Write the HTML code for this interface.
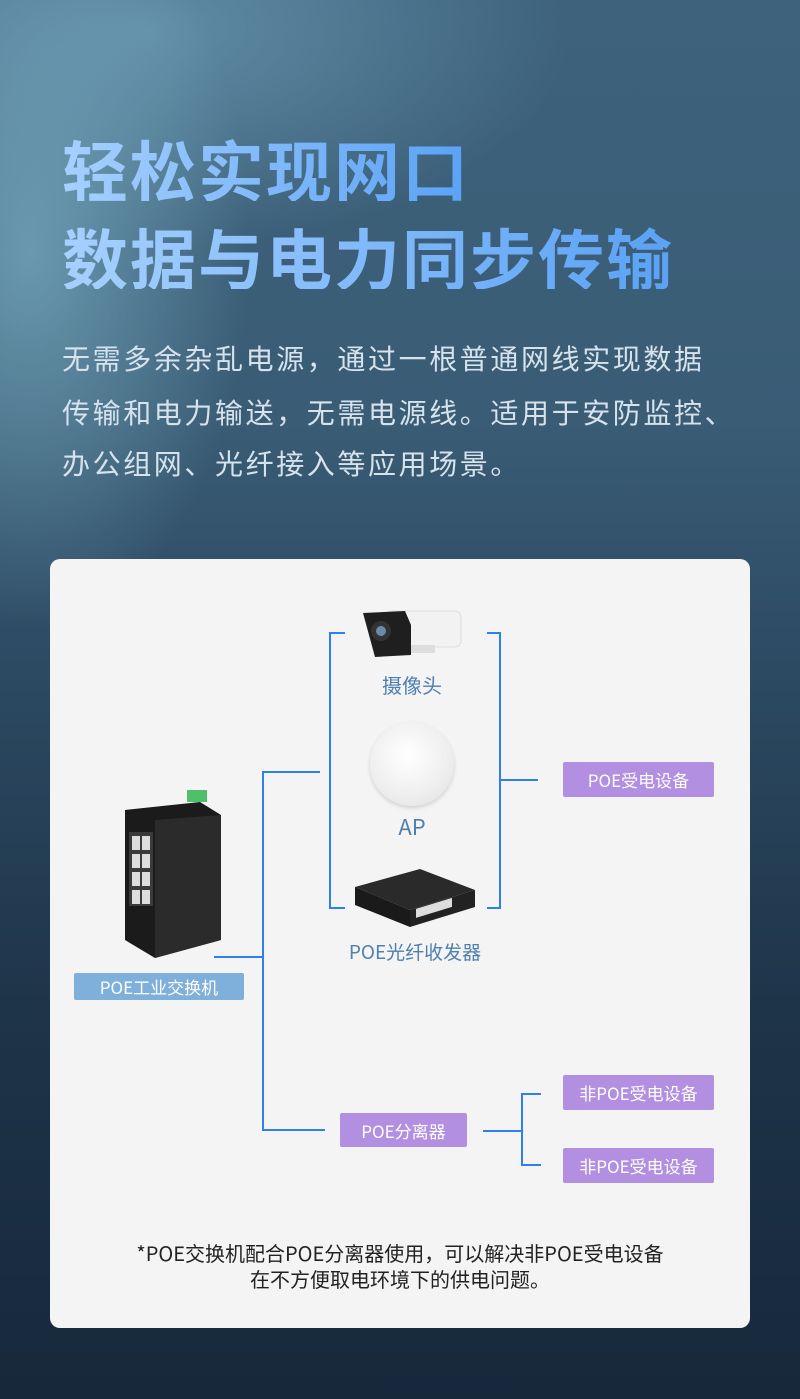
<!DOCTYPE html>
<html><head><meta charset="utf-8">
<style>
*{margin:0;padding:0;box-sizing:border-box}
body{width:800px;height:1399px;overflow:hidden;position:relative;font-family:"Noto Sans CJK SC","Liberation Sans",sans-serif;
background:radial-gradient(ellipse 220px 380px at 30px 250px,rgba(130,185,205,.65),rgba(130,185,205,0) 100%),
radial-gradient(ellipse 420px 220px at 150px 30px,rgba(120,170,195,.6),rgba(120,170,195,0)),
linear-gradient(180deg,#3e627c 0%,#3a5c75 30%,#2c4a62 48%,#1e3449 72%,#17283b 100%);}
.t{position:absolute;left:62px;font-size:66px;font-weight:bold;letter-spacing:2px;line-height:1;
background:linear-gradient(90deg,#a6d0ff,#5aa2f5);-webkit-background-clip:text;background-clip:text;color:transparent;white-space:nowrap}
.p{position:absolute;left:62px;font-size:28px;letter-spacing:2.6px;color:#d6e2ec;line-height:1;white-space:nowrap}
.card{position:absolute;left:50px;top:559px;width:700px;height:769px;background:#f4f4f4;border-radius:10px}
.ln{position:absolute;background:#2f80ee}
.box{position:absolute;background:#b28fe0;color:#fff;font-size:17px;display:flex;align-items:center;justify-content:center;border-radius:2px}
.lbl{position:absolute;color:#4f7fb0;font-size:20px;text-align:center;white-space:nowrap}
</style></head><body>
<div class="t" style="top:135px">轻松实现网口</div>
<div class="t" style="top:223px">数据与电力同步传输</div>
<div class="p" style="top:344px">无需多余杂乱电源，通过一根普通网线实现数据</div>
<div class="p" style="top:398px">传输和电力输送，无需电源线。适用于安防监控、</div>
<div class="p" style="top:449px">办公组网、光纤接入等应用场景。</div>

<div class="card"></div>
<div class="ln" style="left:329px;top:632px;width:2px;height:277px"></div>
<div class="ln" style="left:329px;top:632px;width:16px;height:2px"></div>
<div class="ln" style="left:329px;top:907px;width:16px;height:2px"></div>
<div class="ln" style="left:499px;top:632px;width:2px;height:277px"></div>
<div class="ln" style="left:487px;top:632px;width:14px;height:2px"></div>
<div class="ln" style="left:487px;top:907px;width:14px;height:2px"></div>
<div class="ln" style="left:499px;top:779px;width:39px;height:2px"></div>
<div class="ln" style="left:262px;top:771px;width:58px;height:2px"></div>
<div class="ln" style="left:262px;top:771px;width:2px;height:360px"></div>
<div class="ln" style="left:262px;top:1129px;width:63px;height:2px"></div>
<div class="ln" style="left:214px;top:956px;width:48px;height:2px"></div>
<div class="ln" style="left:483px;top:1130px;width:40px;height:2px"></div>
<div class="ln" style="left:521px;top:1093px;width:2px;height:73px"></div>
<div class="ln" style="left:521px;top:1093px;width:20px;height:2px"></div>
<div class="ln" style="left:521px;top:1164px;width:20px;height:2px"></div>

<svg style="position:absolute;left:355px;top:605px" width="110" height="60">
<rect x="30" y="6" width="76" height="36" rx="6" fill="#f2f2f2" stroke="#ddd"/>
<rect x="40" y="40" width="40" height="8" fill="#ddd"/>
<path d="M8 8 L50 6 L56 20 L56 50 L20 52 L14 30 Z" fill="#1f1f1f"/>
<circle cx="26" cy="26" r="10" fill="#333"/><circle cx="26" cy="26" r="5" fill="#6a8aa8"/>
</svg>
<div class="lbl" style="left:362px;top:670px;width:100px">摄像头</div>
<div style="position:absolute;left:370px;top:722px;width:84px;height:84px;border-radius:50%;background:radial-gradient(circle at 45% 40%,#fff,#eee 60%,#ddd);box-shadow:0 2px 4px rgba(0,0,0,.15)"></div>
<div class="lbl" style="left:362px;top:810px;width:100px;font-size:22px">AP</div>
<svg style="position:absolute;left:350px;top:865px" width="125" height="65">
<polygon points="5,22 70,4 125,25 60,45" fill="#2a2a2a"/>
<polygon points="5,22 60,45 60,62 5,40" fill="#1a1a1a"/>
<polygon points="60,45 125,25 125,42 60,62" fill="#222"/>
<rect x="66" y="44" width="36" height="9" fill="#ddd" transform="skewY(-17) translate(0,20)"/>
</svg>
<div class="lbl" style="left:330px;top:938px;width:170px;font-size:19px">POE光纤收发器</div>
<svg style="position:absolute;left:115px;top:790px" width="110" height="180">
<rect x="72" y="0" width="20" height="12" fill="#4fbf6a"/>
<polygon points="10,20 85,12 106,25 106,150 40,168 10,150" fill="#1b1b1b"/>
<polygon points="40,30 106,25 106,150 40,168" fill="#2b2b2b"/>
<rect x="14" y="42" width="24" height="74" fill="#3a3a3a"/>
<g fill="#ddd"><rect x="17" y="46" width="8" height="14"/><rect x="27" y="46" width="8" height="14"/><rect x="17" y="64" width="8" height="14"/><rect x="27" y="64" width="8" height="14"/><rect x="17" y="82" width="8" height="14"/><rect x="27" y="82" width="8" height="14"/><rect x="17" y="100" width="8" height="14"/><rect x="27" y="100" width="8" height="14"/></g>
</svg>
<div class="box" style="left:74px;top:973px;width:170px;height:27px;background:#7fb0dc;font-size:17px">POE工业交换机</div>

<div class="box" style="left:563px;top:762px;width:151px;height:35px">POE受电设备</div>
<div class="box" style="left:340px;top:1113px;width:127px;height:34px">POE分离器</div>
<div class="box" style="left:563px;top:1075px;width:151px;height:35px">非POE受电设备</div>
<div class="box" style="left:563px;top:1148px;width:151px;height:35px">非POE受电设备</div>

<div style="position:absolute;left:50px;top:1240px;width:700px;text-align:center;font-size:20px;line-height:26px;color:#222">*POE交换机配合POE分离器使用，可以解决非POE受电设备<br>在不方便取电环境下的供电问题。</div>
</body></html>
